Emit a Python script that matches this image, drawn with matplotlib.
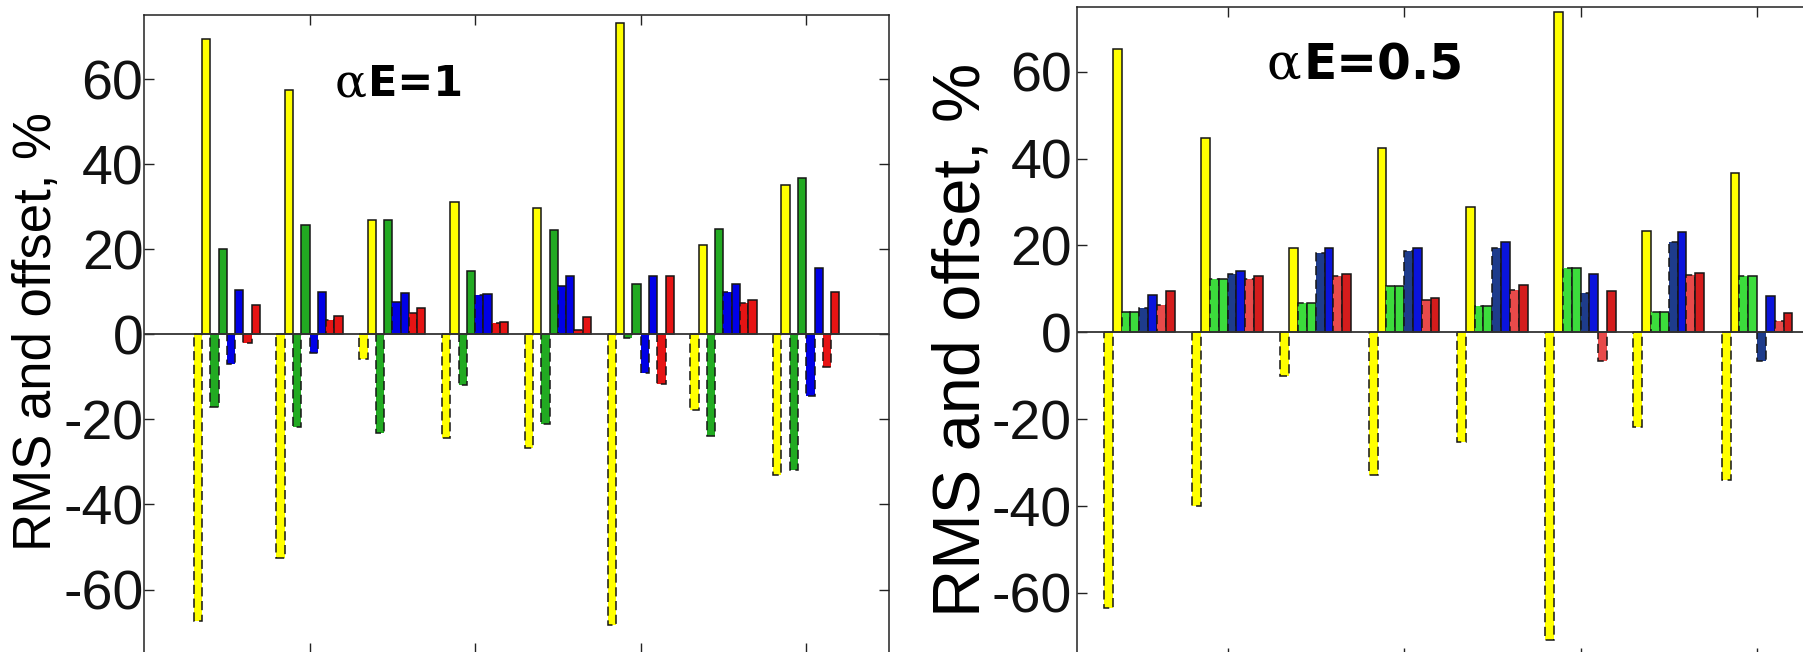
import matplotlib
matplotlib.use('Agg')
import matplotlib.pyplot as plt
import numpy as np

plt.rcParams['font.family'] = ['Liberation Sans', 'DejaVu Sans']
plt.rcParams['axes.unicode_minus'] = False

groups = [1, 2, 3, 4, 5, 6, 7, 8]
ytick_values = [-60, -40, -20, 0, 20, 40, 60]
xtick_values = [2, 4, 6, 8]
ylabel_text = 'RMS and offset, %'
title_left = 'E=1'
title_right = 'E=0.5'

# ---- alpha*E = 1 (left panel) ----
yellow_offset_1 = [-67.5, -52.6, -5.9, -24.4, -26.8, -68.3, -17.9, -33.1]
yellow_rms_1 = [69.3, 57.4, 26.8, 31.0, 29.8, 73.1, 21.0, 35.2]
green_offset_1 = [-17.0, -21.9, -23.1, -11.9, -21.1, -0.9, -23.8, -31.9]
green_rms_1 = [20.0, 25.6, 26.8, 14.9, 24.5, 11.8, 24.7, 36.7]
blue_offset_1 = [-7.0, -4.3, 7.7, 9.2, 11.4, -9.2, 9.9, -14.4]
blue_rms_1 = [10.3, 9.9, 9.6, 9.5, 13.7, 13.7, 11.8, 15.7]
red_offset_1 = [-2.1, 3.4, 4.9, 2.6, 1.0, -11.7, 7.3, -7.8]
red_rms_1 = [6.9, 4.2, 6.1, 3.0, 4.1, 13.7, 8.1, 9.9]

# ---- alpha*E = 0.5 (right panel) ----
yellow_offset_05 = [-63.6, -39.9, -10.1, -32.9, -25.2, -70.8, -21.7, -34.0]
yellow_rms_05 = [65.2, 44.8, 19.5, 42.4, 28.8, 73.8, 23.4, 36.6]
green_offset_05 = [4.7, 12.2, 6.7, 10.7, 6.1, 14.9, 4.7, 13.0]
green_rms_05 = [4.7, 12.2, 6.7, 10.7, 6.1, 14.9, 4.7, 13.0]
blue_offset_05 = [5.5, 13.4, 18.3, 18.8, 19.3, 9.0, 20.7, -6.5]
blue_rms_05 = [8.6, 14.2, 19.5, 19.5, 20.7, 13.4, 23.1, 8.4]
red_offset_05 = [6.4, 12.2, 13.0, 7.5, 9.8, -6.5, 13.2, 2.5]
red_rms_05 = [9.5, 13.0, 13.4, 8.0, 11.0, 9.5, 13.7, 4.5]

colors_1 = ['#FFFF00', '#FFFF00', '#22AA22', '#22AA22',
            '#0000E6', '#0000E6', '#E61414', '#E61414']
colors_05 = ['#FFFF00', '#FFFF00', '#3CDC3C', '#3CDC3C',
             '#1E3C8C', '#0A14DC', '#E84A4A', '#D41C1C']
DASH = (0, (6, 3))
styles = [DASH, '-', DASH, '-', DASH, '-', DASH, '-']

fig = plt.figure(figsize=(18.03, 6.52), dpi=100)
ax1 = fig.add_axes([0.07987, -0.00215, 0.41320, 0.97884])
ax2 = fig.add_axes([0.59761, -0.0092, 0.42585, 0.99908])


def draw(ax, data, colors, xlim, labelsize, pad):
    n = len(data)
    width = 0.1
    x = np.asarray(groups, dtype=float)
    for i, vals in enumerate(data):
        offs = (i - (n - 1) / 2.0) * width
        ax.bar(x + offs, vals, width, color=colors[i], edgecolor='#151515',
               linewidth=1.1, linestyle=styles[i], zorder=2)
    ax.axhline(0, color='#333333', lw=1.3, zorder=3)
    ax.set_ylim(-75, 75)
    ax.set_xlim(*xlim)
    ax.set_xticks(xtick_values)
    ax.set_xticklabels([])
    ax.set_yticks(ytick_values)
    ax.set_yticklabels([str(v) for v in ytick_values])
    ax.tick_params(axis='both', direction='in', top=True, right=True,
                   length=7, width=1.0, color='#222222',
                   labelsize=labelsize, pad=pad, labelcolor='#111111')
    for s in ax.spines.values():
        s.set_linewidth(1.1)
        s.set_color('#222222')


data1 = [yellow_offset_1, yellow_rms_1, green_offset_1, green_rms_1,
         blue_offset_1, blue_rms_1, red_offset_1, red_rms_1]
data05 = [yellow_offset_05, yellow_rms_05, green_offset_05, green_rms_05,
          blue_offset_05, blue_rms_05, red_offset_05, red_rms_05]

draw(ax1, data1, colors_1, (0, 9), 40, 0.5)
draw(ax2, data05, colors_05, (0.3, 9), 40, 4)

ax1.set_ylabel(ylabel_text, fontsize=38, ha='center', va='center')
ax1.yaxis.set_label_coords(-0.1436, 0.505)
ax2.set_ylabel(ylabel_text, fontsize=48, ha='center', va='center')
ax2.yaxis.set_label_coords(-0.150, 0.488)

ax1.text(2.69, 56.0, '\u03b1', family='DejaVu Serif', fontsize=34,
         ha='right', va='baseline')
ax1.text(2.709, 56.0, title_left, family='DejaVu Sans', fontsize=31,
         fontweight='bold', ha='left', va='baseline')
ax2.text(2.83, 58.2, '\u03b1', family='DejaVu Serif', fontsize=37,
         ha='right', va='baseline')
ax2.text(2.856, 58.2, title_right, family='DejaVu Sans', fontsize=35,
         fontweight='bold', ha='left', va='baseline')

fig.savefig('out.png', dpi=100)
